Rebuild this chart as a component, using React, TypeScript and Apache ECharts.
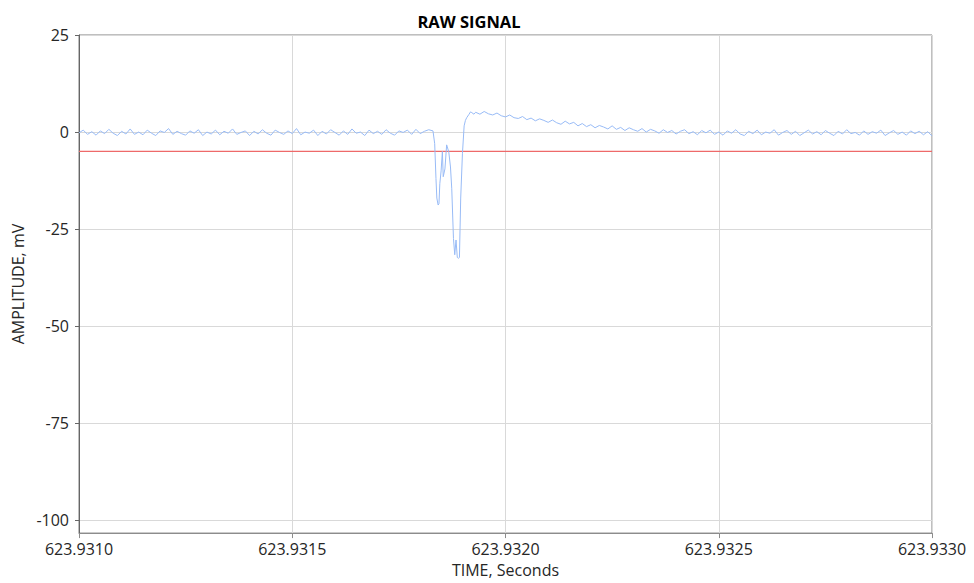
import React, { useEffect, useRef } from "react";
import * as echarts from "echarts";

// Time offsets from 623.9310 s, in microseconds
const timeUs: number[] = [
  0, 10, 20, 30, 40, 50, 60, 70, 80, 90, 100, 110, 120, 130, 140, 150, 160, 170, 180, 190,
  200, 210, 220, 230, 240, 250, 260, 270, 280, 290, 300, 310, 320, 330, 340, 350, 360, 370, 380, 390,
  400, 410, 420, 430, 440, 450, 460, 470, 480, 490, 500, 510, 520, 530, 540, 550, 560, 570, 580, 590,
  600, 610, 620, 630, 640, 650, 660, 670, 680, 690, 700, 710, 720, 730, 740, 750, 760, 770, 780, 790,
  800, 810, 820, 830,
  834, 837, 839, 842, 844, 846, 849, 852, 854, 858, 862, 867, 871, 874, 878, 881, 884, 887, 890, 892,
  895, 899, 903, 906, 909, 914, 918, 921, 926,
  930, 940, 950, 960, 970, 980, 990, 1000, 1010, 1020,
  1030, 1040, 1050, 1060, 1070, 1080, 1090, 1100, 1110, 1120,
  1130, 1140, 1150, 1160, 1170, 1180, 1190, 1200, 1210, 1220,
  1230, 1240, 1250, 1260, 1270, 1280, 1290, 1300, 1310, 1320,
  1330, 1340, 1350, 1360, 1370, 1380, 1390, 1400, 1410, 1420,
  1430, 1440, 1450, 1460, 1470, 1480, 1490, 1500, 1510, 1520,
  1530, 1540, 1550, 1560, 1570, 1580, 1590, 1600, 1610, 1620,
  1630, 1640, 1650, 1660, 1670, 1680, 1690, 1700, 1710, 1720,
  1730, 1740, 1750, 1760, 1770, 1780, 1790, 1800, 1810, 1820,
  1830, 1840, 1850, 1860, 1870, 1880, 1890, 1900, 1910, 1920,
  1930, 1940, 1950, 1960, 1970, 1980, 1990, 2000,
];

// Amplitude in mV
const amplitudeMv: number[] = [
  -0.2, 0.5, -0.6, 0.1, -0.8, 0.3, -0.4, 0.7, -0.3, -0.9, 0.2, -0.5, 0.8, -0.6, 0.0, -0.7, 0.5, -0.3, -0.9, 0.3,
  -0.1, 0.9, -0.6, 0.2, -0.4, -0.8, 0.3, -0.3, 0.6, -0.9, 0.0, -0.5, 0.5, -0.7, 0.2, -0.3, 0.8, -0.6, -0.1, 0.3,
  -0.9, 0.2, -0.5, 0.6, -0.3, -0.8, 0.5, -0.1, -0.6, 0.3, -0.4, 0.9, -0.7, 0.0, -0.3, 0.5, -0.9, 0.2, -0.5, 0.6,
  -0.1, -0.8, 0.3, -0.6, 0.8, -0.3, 0.0, -0.9, 0.5, -0.4, 0.2, -0.6, 0.6, -0.3, -0.8, 0.3, -0.1, 0.5, -0.6, 0.7,
  -0.4, 0.2, 0.6, 0.3,
  -3, -12, -17, -18.8, -18.5, -13.3, -10, -5, -11.5, -9.5, -3.3, -5.1, -9, -14.6, -27.4, -31.6, -27.8, -32.3, -32.5, -32.3,
  -17, -5.6, 1.6, 3.0, 3.7, 4.5, 5.2, 5.0, 4.6,
  5.1, 4.6, 5.3, 4.7, 4.4, 4.9, 4.2, 3.9, 4.4, 3.7,
  3.5, 4.0, 3.2, 3.6, 2.9, 3.4, 3.0, 2.5, 3.1, 2.4,
  2.0, 2.8, 2.1, 2.5, 1.6, 2.2, 1.4, 1.9, 1.1, 1.7,
  1.3, 0.8, 1.6, 0.7, 1.2, 0.4, 1.1, 0.6, 0.2, 0.9,
  0.0, 0.7, 0.3, -0.3, 0.6, -0.1, 0.4, -0.5, 0.2, 0.6,
  -0.4, 0.1, -0.7, 0.4, -0.2, 0.5, -0.6, 0.0, -0.8, 0.3,
  -0.3, 0.6, -0.5, -0.9, 0.2, -0.4, 0.5, -0.7, 0.0, -0.3,
  0.6, -0.8, -0.1, 0.4, -0.6, 0.2, -0.9, -0.2, 0.5, -0.5,
  0.1, -0.7, 0.4, -0.3, -0.9, 0.2, -0.5, 0.6, -0.4, -0.1,
  -0.8, 0.3, -0.6, 0.1, -0.3, 0.5, -0.9, -0.2, 0.4, -0.6,
  0.0, -0.8, 0.3, -0.4, 0.2, -0.7, 0.1, -1.0,
];

const thresholdMv = -5;
const timeBaseSeconds = 623.931;
const xMinUs = 0;
const xMaxUs = 2000;
const xTickStepUs = 500;
const yTickValues = [-100, -75, -50, -25, 0, 25];
const yMin = -103.3;
const yMax = 25;

const FONT = "'Open Sans', 'Liberation Sans', sans-serif";
const RED = "#ee6a6a";

export default function App() {
  const ref = useRef<HTMLDivElement>(null);
  useEffect(() => {
    if (!ref.current) return;
    const chart = echarts.init(ref.current, undefined, { renderer: "svg" });
    const data = timeUs.map((t, i) => [t, amplitudeMv[i]]);
    const thresholdData = [
      [xMinUs, thresholdMv],
      [xMaxUs, thresholdMv],
    ];
    chart.setOption({
      animation: false,
      backgroundColor: "#ffffff",
      color: [RED, "#98bbf6"],
      title: {
        text: "RAW SIGNAL",
        left: 464,
        top: 8,
        textAlign: "center",
        textStyle: { fontFamily: FONT, fontSize: 16.5, fontWeight: "bold", color: "#000" },
      },
      grid: {
        left: 79,
        right: 42,
        top: 35,
        bottom: 46,
        show: true,
        borderColor: "#7f7f7f",
        borderWidth: 1,
        containLabel: false,
      },
      xAxis: {
        type: "value",
        min: xMinUs,
        max: xMaxUs,
        interval: xTickStepUs,
        name: "TIME, Seconds",
        nameLocation: "middle",
        nameGap: 28,
        nameTextStyle: { fontFamily: FONT, fontSize: 16, color: "#262626" },
        axisLine: { show: true, onZero: false, lineStyle: { color: "#8c8c8c", width: 1 } },
        axisTick: { show: true, length: 5, lineStyle: { color: "#8c8c8c" } },
        axisLabel: {
          fontFamily: FONT,
          fontSize: 16,
          color: "#262626",
          margin: 8,
          formatter: (v: number) => (timeBaseSeconds + v / 1e6).toFixed(4),
        },
        splitLine: { show: true, lineStyle: { color: "#d9d9d9", width: 1 } },
      },
      yAxis: {
        type: "value",
        min: yMin,
        max: yMax,
        name: "AMPLITUDE, mV",
        nameLocation: "middle",
        nameGap: 48,
        nameTextStyle: { fontFamily: FONT, fontSize: 16, color: "#262626" },
        axisLine: { show: true, onZero: false, lineStyle: { color: "#666666", width: 1 } },
        axisTick: { show: true, length: 4, customValues: yTickValues, lineStyle: { color: "#666666" } },
        axisLabel: {
          fontFamily: FONT,
          fontSize: 16,
          color: "#262626",
          margin: 10,
          customValues: yTickValues,
          formatter: (v: number) => String(v),
        },
        splitLine: { show: true, lineStyle: { color: "#d9d9d9", width: 1 } },
      },
      series: [
        {
          name: "threshold",
          type: "line",
          data: thresholdData,
          symbol: "none",
          silent: true,
          color: RED,
          itemStyle: { color: RED },
          lineStyle: { color: RED, width: 1.2, opacity: 1 },
          z: 2,
        },
        {
          name: "signal",
          type: "line",
          data,
          symbol: "none",
          color: "#98bbf6",
          lineStyle: { color: "#98bbf6", width: 1 },
          z: 3,
        },
      ],
    });
    return () => chart.dispose();
  }, []);
  return <div ref={ref} style={{ width: 974, height: 583, position: "absolute", left: 0, top: 0 }} />;
}
